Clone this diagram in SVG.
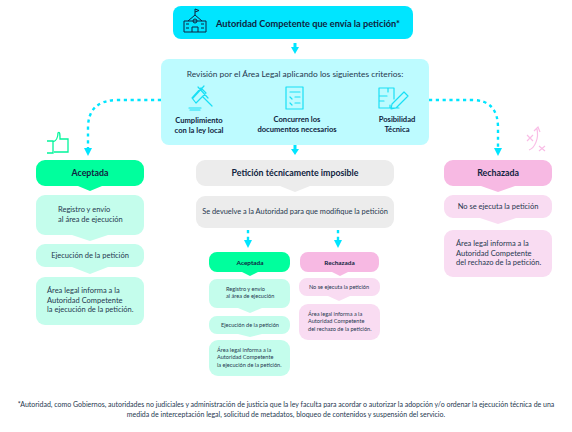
<svg xmlns="http://www.w3.org/2000/svg" width="572" height="432" viewBox="0 0 572 432">
<style>
text{font-family:Lato,"Noto Sans","Liberation Sans",sans-serif;fill:#26384f;text-anchor:middle}
.t{font-size:7.5px}
.s{font-size:5.6px}
.f{font-size:7px}
.b{font-weight:700;font-size:8.8px;fill:#0f2340}
.bs{font-weight:700;font-size:6.4px;fill:#0f2340}
.c{font-weight:700;font-size:7.6px;fill:#0f2340}
.l{text-anchor:start}
.ic{fill:none;stroke:#19dff5;stroke-width:1.200;stroke-linecap:round;stroke-linejoin:round}
.dash{fill:none;stroke:#00e5ff;stroke-width:2.400;stroke-dasharray:3.200 3.600}
.head{fill:#00e5ff}
.g{fill:#00ff9d}.lg{fill:#c4fdec}.p{fill:#f7b9e3}.lp{fill:#f9dcf2}.gr{fill:#ececec}
</style>
<rect width="572" height="432" fill="#fff"/>
<g id="connectors">
<path class="head" d="M293.500 43h3v4h-3z"/><polygon class="head" points="291,47 299,47 295,54"/>
<path class="dash" d="M161 100H118Q88 100 88 128V150"/><polygon class="head" points="84,148 92,148 88,156"/>
<path class="dash" d="M429 100H472Q498 100 498 128V150"/><polygon class="head" points="494,148 502,148 498,156"/>
<path class="head" d="M293.500 145h3v4h-3z"/><polygon class="head" points="291,149 299,149 295,155"/>
<path class="dash" d="M248 230V241"/><polygon class="head" points="244,240 252,240 248,248"/>
<path class="dash" d="M338 230V241"/><polygon class="head" points="334,240 342,240 338,248"/>
</g>
<g id="autoridad">
<rect x="173" y="6" width="240" height="33" rx="8" fill="#00e5ff"/>
<g fill="none" stroke="#0f2340" stroke-width="1" stroke-linejoin="round"><path d="M184 32V21H206V32ZM188 21L195 15L202 21M195 15V9L199 10.500L195 12M192 32V27H198V32M186 24H189M201 24H204M186 28H189M201 28H204"/><circle cx="195" cy="21" r="2"/></g>
<text x="308" y="26.500" class="b" style="font-size:9.200px">Autoridad Competente que envía la petición*</text>
</g>
<g id="revision">
<rect x="161" y="59" width="268" height="86" rx="8" fill="#bdfbff"/>
<text x="295" y="76.500" class="t" style="font-size:8.400px">Revisión por el Área Legal aplicando los siguientes criterios:</text>
<path class="ic" d="M192 98L201 88L206 93L196 103ZM198 87L208 98M204 86L193 98M203 97L212 106M189 108H201M190 110H200"/>
<path class="ic" d="M286 87H303V109H286ZM290 92H300M290 97L292 99M295 97H300M290 103L292 105M295 103H300"/>
<path class="ic" d="M394 99V88H379V108H399M379 96H387M379 101H384M388 88V92M390 108V105M392 104L404 92L408 96L396 108L391 109Z"/>
<text x="199" y="123" class="c">Cumplimiento</text><text x="199" y="133" class="c">con la ley local</text>
<text x="297" y="122" class="c">Concurren los</text><text x="297" y="132" class="c">documentos necesarios</text>
<text x="397" y="122" class="c">Posibilidad</text><text x="397" y="132" class="c">Técnica</text>
</g>
<g id="aceptada-col">
<g id="a3"><rect class="lg" x="36" y="277" width="108" height="48" rx="9"/>
<text x="47" y="293" class="t l">Área legal informa a la</text><text x="47" y="303" class="t l">Autoridad Competente</text><text x="47" y="312" class="t l">la ejecución de la petición.</text></g>
<g id="a2"><path class="lg" d="M45 244H135a9 9 0 0 1 9 9V258a9 9 0 0 1-9 9H108L90 274L72 267H45a9 9 0 0 1-9-9V253a9 9 0 0 1 9-9Z"/>
<text x="90" y="258" class="t">Ejecución de la petición</text></g>
<g id="a1"><path class="lg" d="M45 195H135a9 9 0 0 1 9 9V226a9 9 0 0 1-9 9H108L90 241L72 235H45a9 9 0 0 1-9-9V204a9 9 0 0 1 9-9Z"/>
<text x="58" y="212" class="t l">Registro y envío</text><text x="58" y="222" class="t l">al área de ejecución</text></g>
<g id="a0"><path class="g" d="M45 160H135a9 9 0 0 1 9 9V177a9 9 0 0 1-9 9H102L90 191L78 186H45a9 9 0 0 1-9-9V169a9 9 0 0 1 9-9Z"/>
<text x="90" y="175.500" class="b">Aceptada</text></g>
<path d="M47 153L53 153V141H47M53 142C56 141 58 137 58 133C60 131 60 135 60 139H68V152H54" fill="none" stroke="#00f59a" stroke-width="1.300"/>
</g>
<g id="imposible">
<path class="gr" d="M205 160H385a9 9 0 0 1 9 9V177a9 9 0 0 1-9 9H310L295 192L280 186H205a9 9 0 0 1-9-9V169a9 9 0 0 1 9-9Z"/>
<text x="295" y="175.500" class="b">Petición técnicamente imposible</text>
<rect class="gr" x="196" y="196" width="198" height="32" rx="9"/>
<text x="295" y="214" class="t" style="font-size:7.400px">Se devuelve a la Autoridad para que modifique la petición</text>
</g>
<g id="sub-aceptada">
<rect class="lg" x="209" y="340" width="81" height="36" rx="9"/>
<text x="217" y="352" class="s l">Área legal informa a la</text><text x="217" y="359" class="s l">Autoridad Competente</text><text x="217" y="366.500" class="s l">la ejecución de la petición.</text>
<path class="lg" d="M217 316H282a8 8 0 0 1 8 8V326a8 8 0 0 1-8 8H262L250 337L238 334H217a8 8 0 0 1-8-8V324a8 8 0 0 1 8-8Z"/>
<text x="250" y="326.500" class="s">Ejecución de la petición</text>
<path class="lg" d="M217 279H282a8 8 0 0 1 8 8V300a8 8 0 0 1-8 8H262L250 313L238 308H217a8 8 0 0 1-8-8V287a8 8 0 0 1 8-8Z"/>
<text x="226" y="291" class="s l">Registro y envío</text><text x="226" y="298" class="s l">al área de ejecución</text>
<path class="g" d="M217 252H282a8 8 0 0 1 8 8V264a8 8 0 0 1-8 8H258L250 276L242 272H217a8 8 0 0 1-8-8V260a8 8 0 0 1 8-8Z"/>
<text x="250" y="264.500" class="bs">Aceptada</text>
</g>
<g id="sub-rechazada">
<rect class="lp" x="299" y="304" width="81" height="36" rx="9"/>
<text x="308" y="316" class="s l">Área legal informa a la</text><text x="308" y="323" class="s l">Autoridad Competente</text><text x="308" y="330.500" class="s l">del rechazo de la petición.</text>
<path class="lp" d="M307 278H372a8 8 0 0 1 8 8V288a8 8 0 0 1-8 8H350L339 301L328 296H307a8 8 0 0 1-8-8V286a8 8 0 0 1 8-8Z"/>
<text x="339" y="289" class="s">No se ejecuta la petición</text>
<path class="p" d="M308 252H371a8 8 0 0 1 8 8V264a8 8 0 0 1-8 8H348L340 276L332 272H308a8 8 0 0 1-8-8V260a8 8 0 0 1 8-8Z"/>
<text x="339.500" y="264.500" class="bs">Rechazada</text>
</g>
<g id="rechazada-col">
<rect class="lp" x="444" y="230" width="108" height="47" rx="9"/>
<text x="456" y="246" class="t l">Área legal informa a la</text><text x="456" y="256" class="t l">Autoridad Competente</text><text x="456" y="265" class="t l">del rechazo de la petición.</text>
<path class="lp" d="M453 195H543a9 9 0 0 1 9 9V209a9 9 0 0 1-9 9H516L498 224L480 218H453a9 9 0 0 1-9-9V204a9 9 0 0 1 9-9Z"/>
<text x="498" y="209" class="t">No se ejecuta la petición</text>
<path class="p" d="M453 160H543a9 9 0 0 1 9 9V177a9 9 0 0 1-9 9H515L498 192L481 186H453a9 9 0 0 1-9-9V169a9 9 0 0 1 9-9Z"/>
<text x="498" y="175.500" class="b">Rechazada</text>
<path d="M527 135L533 141M533 135L527 141M539 146L545 151M545 146L539 151M529 150C535 148 539 138 537 129M534 131L538 127L540 132" fill="none" stroke="#f9bde6" stroke-width="1.200"/>
</g>
<g id="nota">
<text x="286" y="407" class="f">*Autoridad, como Gobiernos, autoridades no judiciales y administración de justicia que la ley faculta para acordar o autorizar la adopción y/o ordenar la ejecución técnica de una</text>
<text x="286" y="417" class="f">medida de interceptación legal, solicitud de metadatos, bloqueo de contenidos y suspensión del servicio.</text>
</g>
</svg>
